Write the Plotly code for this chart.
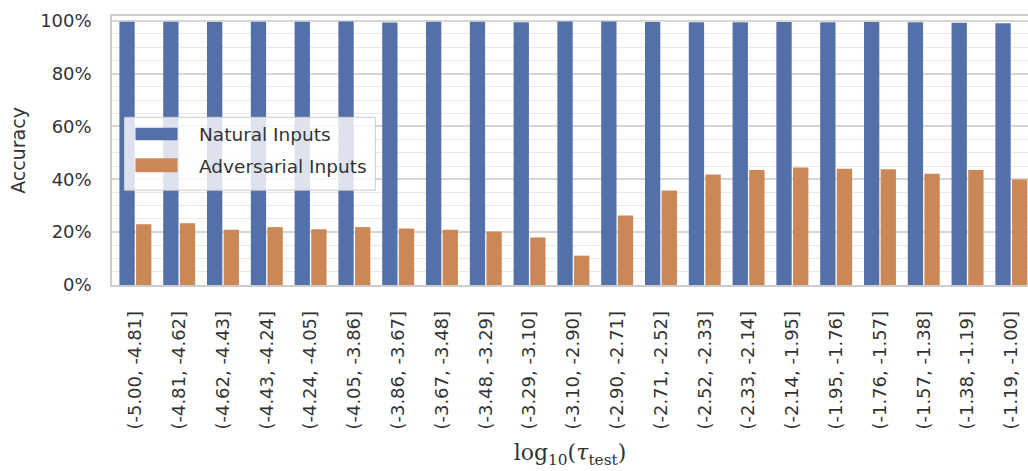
import plotly.graph_objects as go

categories = ["(-5.00, -4.81]", "(-4.81, -4.62]", "(-4.62, -4.43]", "(-4.43, -4.24]",
              "(-4.24, -4.05]", "(-4.05, -3.86]", "(-3.86, -3.67]", "(-3.67, -3.48]",
              "(-3.48, -3.29]", "(-3.29, -3.10]", "(-3.10, -2.90]", "(-2.90, -2.71]",
              "(-2.71, -2.52]", "(-2.52, -2.33]", "(-2.33, -2.14]", "(-2.14, -1.95]",
              "(-1.95, -1.76]", "(-1.76, -1.57]", "(-1.57, -1.38]", "(-1.38, -1.19]",
              "(-1.19, -1.00]"]
natural = [99.6, 99.6, 99.5, 99.6, 99.6, 99.7, 99.3, 99.6, 99.6, 99.4, 99.7,
           99.7, 99.5, 99.4, 99.4, 99.5, 99.4, 99.5, 99.4, 99.2, 99.1]
adversarial = [23.0, 23.4, 20.9, 21.9, 21.1, 21.9, 21.4, 20.9, 20.2, 18.0, 11.1,
               26.3, 35.8, 41.8, 43.5, 44.5, 44.0, 43.8, 42.1, 43.5, 39.9]
series_names = ["Natural Inputs", "Adversarial Inputs"]
y_ticks = [0, 20, 40, 60, 80, 100]
y_tick_labels = ["0%", "20%", "40%", "60%", "80%", "100%"]

BLUE = "#5470A9"
ORANGE = "#CB8756"
TXT = "#333333"
FONT = "DejaVu Sans"

fig = go.Figure()
fig.add_trace(go.Bar(x=categories, y=natural, name=series_names[0], showlegend=False,
                     marker=dict(color=BLUE, line=dict(width=0))))
fig.add_trace(go.Bar(x=categories, y=adversarial, name=series_names[1], showlegend=False,
                     marker=dict(color=ORANGE, line=dict(width=0))))

# custom legend (frame, wide swatches, labels) in paper coordinates
shapes = [
    dict(type="rect", xref="paper", yref="paper", x0=0.0136, x1=0.2875, y0=0.3525, y1=0.6234,
         fillcolor="rgba(255,255,255,0.8)", line=dict(color="#cccccc", width=1), layer="above"),
    dict(type="rect", xref="paper", yref="paper", x0=0.0256, x1=0.0715, y0=0.538, y1=0.5844,
         fillcolor=BLUE, line=dict(width=0), layer="above"),
    dict(type="rect", xref="paper", yref="paper", x0=0.0256, x1=0.0715, y0=0.4193, y1=0.4712,
         fillcolor=ORANGE, line=dict(width=0), layer="above"),
]
annotations = [
    dict(text=series_names[0], xref="paper", yref="paper", x=0.0933, y=0.5603,
         xanchor="left", yanchor="middle", showarrow=False,
         font=dict(family=FONT, size=18.5, color=TXT)),
    dict(text=series_names[1], xref="paper", yref="paper", x=0.0933, y=0.4416,
         xanchor="left", yanchor="middle", showarrow=False,
         font=dict(family=FONT, size=18.5, color=TXT)),
]

fig.update_layout(
    width=1028, height=471,
    margin=dict(l=111.5, r=0, t=15.5, b=186),
    paper_bgcolor="white", plot_bgcolor="white",
    barmode="group", bargap=0.24, bargroupgap=0.08,
    font=dict(family=FONT, size=18, color=TXT),
    showlegend=False,
    shapes=shapes, annotations=annotations,
)
fig.update_xaxes(
    tickangle=-90, tickfont=dict(family=FONT, size=18, color=TXT),
    showgrid=False, showline=True, linecolor="#cccccc", linewidth=1.5, mirror=True,
    ticks="outside", ticklen=17, tickcolor="rgba(0,0,0,0)",
    range=[-0.534, 20.38], automargin=False,
    title=dict(text="log<sub>10</sub>(<i>τ</i><sub>test</sub>)",
               font=dict(family="DejaVu Serif", size=22, color=TXT), standoff=16),
)
fig.update_yaxes(
    range=[0, 101.8], tickvals=y_ticks, ticktext=y_tick_labels,
    tickfont=dict(family=FONT, size=18, color=TXT),
    showgrid=True, gridcolor="#d6d6d6", gridwidth=1.8,
    minor=dict(dtick=5, showgrid=True, gridcolor="#e9e9e9", gridwidth=1, ticks=""),
    showline=True, linecolor="#cccccc", linewidth=1.5, mirror=False,
    zeroline=False, ticks="outside", ticklen=15, tickcolor="rgba(0,0,0,0)",
    automargin=False,
    title=dict(text="Accuracy", font=dict(family=FONT, size=19, color=TXT), standoff=10),
)

fig.write_html("out.html", config={"displayModeBar": False},
               post_script="document.body.style.margin='0';document.body.style.overflow='hidden';")
